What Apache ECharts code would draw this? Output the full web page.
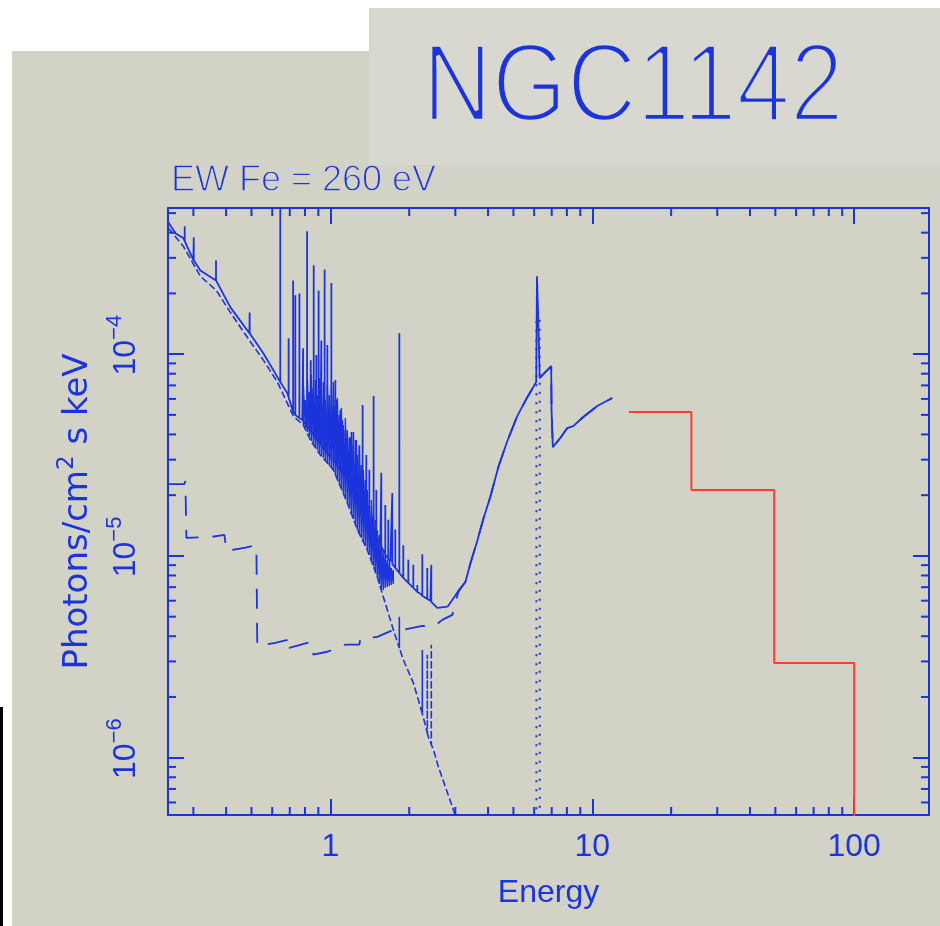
<!DOCTYPE html>
<html><head><meta charset="utf-8">
<script src="https://cdn.jsdelivr.net/npm/echarts@6/dist/echarts.min.js"></script>
<style>html,body{margin:0;padding:0;background:#fff;}#c{width:940px;height:926px;}</style>
</head><body><div id="c"></div>
<script>
// ---- axis ranges and tick labels ----
const xRange = [0.24, 193];
const yRange = [5.2e-7, 5.3e-4];
const xTickLabels = [1, 10, 100];
const yTickLabels = [1e-6, 1e-5, 1e-4];
const xMinorTicks = [0.3,0.4,0.5,0.6,0.7,0.8,0.9,2,3,4,5,6,7,8,9,20,30,40,50,60,70,80,90];
const yMinorTicks = [6e-7,7e-7,8e-7,9e-7,2e-6,3e-6,4e-6,5e-6,6e-6,7e-6,8e-6,9e-6,2e-5,3e-5,4e-5,5e-5,6e-5,7e-5,8e-5,9e-5,2e-4,3e-4,4e-4,5e-4];

// ---- total model (keV, photons/cm2/s/keV) ----
const totalE = [0.2408,0.256,0.275,0.300,0.319,0.367,0.415,0.491,0.555,0.628,0.685,0.722,0.782,0.839,0.916,1.027,1.161,1.302,1.421,1.552,1.694,1.850,2.02,2.21,2.41,2.56,2.80,2.87,3.08,3.28,3.42,3.64,3.84,4.08,4.38,4.74,5.17,5.65,6.11,6.15,6.22,6.22,6.30,6.30,6.33,6.97,6.99,7.05,7.07,7.55,8.03,8.46,9.24,10.45,11.92];
const totalF = [4.50e-4,3.97e-4,3.75e-4,2.92e-4,2.60e-4,2.32e-4,1.71e-4,1.27e-4,1.01e-4,7.69e-5,6.41e-5,5.10e-5,4.71e-5,4.20e-5,3.54e-5,2.99e-5,2.38e-5,1.89e-5,1.47e-5,1.13e-5,9.34e-6,8.05e-6,7.18e-6,6.49e-6,5.99e-6,5.53e-6,5.60e-6,5.85e-6,6.71e-6,7.44e-6,9.13e-6,1.19e-5,1.53e-5,1.96e-5,2.76e-5,3.71e-5,4.93e-5,6.12e-5,7.27e-5,2.43e-4,2.43e-4,1.50e-4,1.50e-4,7.60e-5,7.69e-5,8.72e-5,5.28e-5,5.28e-5,3.46e-5,3.84e-5,4.30e-5,4.40e-5,4.88e-5,5.53e-5,6.06e-5];
// strong emission lines on the total model: energy, continuum level, peak
const lineE = [0.278,0.301,0.366,0.492,0.644,0.693,0.721,0.735,0.762,0.787,0.815,0.842,0.864,0.884,0.902,0.924,0.951,0.974,1.009,1.045,1.054,1.092,1.111,1.141,1.192,1.224,1.256,1.290,1.328,1.372,1.409,1.463,1.498,1.565,1.621,1.664,1.724,1.770,1.834,1.899,1.985,2.074,2.148,2.245,2.345,2.429];
const lineBase = [3.63e-4,2.92e-4,2.32e-4,1.27e-4,7.27e-5,6.12e-5,5.16e-5,4.99e-5,4.82e-5,4.66e-5,4.40e-5,4.18e-5,3.97e-5,3.79e-5,3.67e-5,3.50e-5,3.35e-5,3.24e-5,3.06e-5,2.89e-5,2.85e-5,2.67e-5,2.58e-5,2.46e-5,2.27e-5,2.15e-5,2.03e-5,1.94e-5,1.79e-5,1.63e-5,1.51e-5,1.36e-5,1.26e-5,1.11e-5,1.02e-5,9.66e-6,9.13e-6,8.72e-6,8.23e-6,7.78e-6,7.35e-6,6.94e-6,6.63e-6,6.34e-6,6.12e-6,5.92e-6];
const linePeak = [4.30e-4,3.79e-4,2.92e-4,1.61e-4,8.0e-4,1.20e-4,2.32e-4,1.96e-4,2.00e-4,1.07e-4,4.06e-4,9.34e-5,2.76e-4,9.89e-5,2.07e-4,1.17e-4,2.63e-4,1.11e-4,2.25e-4,7.44e-5,5.92e-5,5.28e-5,4.71e-5,4.20e-5,3.88e-5,4.11e-5,3.75e-5,3.54e-5,5.59e-5,3.16e-5,2.67e-5,6.20e-5,2.12e-5,2.58e-5,1.79e-5,1.51e-5,2.05e-5,1.35e-5,1.27e-4,1.13e-5,9.56e-6,9.03e-6,7.18e-6,1.02e-5,8.72e-6,9.03e-6];
// dense blend of weak lines (0.8-1.75 keV): energy, lower and upper extent
const forestE = [0.7886,0.8028,0.8170,0.8314,0.8461,0.8611,0.8764,0.8919,0.9079,0.9240,0.9403,0.9570,0.9740,0.9912,1.0088,1.0267,1.0449,1.0634,1.0823,1.1015,1.1210,1.1409,1.1612,1.1818,1.2027,1.2241,1.2458,1.2679,1.2904,1.3133,1.3366,1.3603,1.3844,1.4090,1.4340,1.4594,1.4853,1.5117,1.5385,1.5658,1.5936,1.6218,1.6506,1.6799,1.7097,1.7400];
const forestLo = [4.452e-5,4.301e-5,4.109e-5,3.926e-5,3.709e-5,3.584e-5,3.464e-5,3.348e-5,3.236e-5,3.126e-5,3.056e-5,2.953e-5,2.887e-5,2.790e-5,2.727e-5,2.665e-5,2.518e-5,2.405e-5,2.272e-5,2.171e-5,2.050e-5,1.936e-5,1.829e-5,1.728e-5,1.614e-5,1.524e-5,1.440e-5,1.345e-5,1.285e-5,1.228e-5,1.173e-5,1.121e-5,1.071e-5,1.011e-5,9.446e-6,8.923e-6,8.333e-6,7.872e-6,7.267e-6,6.787e-6,6.787e-6,6.944e-6,7.023e-6,7.104e-6,7.185e-6,7.267e-6];
const forestHi = [7.023e-5,5.919e-5,7.606e-5,6.484e-5,7.872e-5,6.787e-5,7.435e-5,6.266e-5,7.606e-5,6.634e-5,7.267e-5,5.919e-5,7.023e-5,6.266e-5,6.787e-5,7.267e-5,5.591e-5,6.055e-5,4.989e-5,5.403e-5,4.452e-5,4.822e-5,4.204e-5,3.837e-5,4.109e-5,3.544e-5,3.752e-5,3.162e-5,3.348e-5,2.822e-5,2.665e-5,2.378e-5,2.122e-5,1.788e-5,1.893e-5,1.595e-5,1.507e-5,1.345e-5,1.270e-5,1.133e-5,1.071e-5,1.011e-5,9.554e-6,9.339e-6,8.722e-6,8.525e-6];

// ---- soft thermal component ----
const thermE = [0.2408,0.2748,0.319,0.367,0.415,0.491,0.555,0.628,0.722,0.789,0.839,0.916,1.027,1.161,1.268,1.384,1.511,1.593,1.740,1.899,2.074,2.206,2.366,2.473,2.584,2.748,2.948,3.053];
const thermF = [4.21e-4,3.42e-4,2.43e-4,2.07e-4,1.61e-4,1.17e-4,9.34e-5,7.27e-5,4.93e-5,4.45e-5,3.75e-5,3.16e-5,2.67e-5,1.83e-5,1.35e-5,1.07e-5,7.87e-6,6.27e-6,4.30e-6,3.06e-6,2.35e-6,1.79e-6,1.27e-6,1.10e-6,9.03e-7,7.18e-7,5.53e-7,4.82e-7];
const thermLineE = [1.834,2.245,2.345,2.429];
const thermLineBase = [3.50e-6,1.65e-6,1.33e-6,1.16e-6];
const thermLinePeak = [5.0e-6,3.42e-6,3.24e-6,3.63e-6];

// ---- scattered + absorbed power law ----
const plE = [0.2408,0.277,0.2797,0.2821,0.348,0.394,0.401,0.423,0.474,0.522,0.526,0.617,0.685,0.691,0.697,0.817,0.854,0.861,0.974,1.141,1.290,1.302,1.511,1.740,1.899,2.245,2.473,2.676,2.922,3.08,3.28,3.42,3.64,3.84,4.08,4.38,4.74,5.17,5.65,6.11,6.33,6.97,6.99,7.05,7.07,7.55,8.03,8.46,9.24,10.45,11.92];
const plF = [2.27e-5,2.27e-5,2.35e-5,1.23e-5,1.24e-5,1.27e-5,1.06e-5,1.07e-5,1.10e-5,1.13e-5,3.58e-6,3.71e-6,3.84e-6,3.97e-6,3.50e-6,3.71e-6,3.71e-6,3.24e-6,3.35e-6,3.63e-6,3.63e-6,3.88e-6,3.97e-6,4.30e-6,4.30e-6,4.50e-6,4.45e-6,4.82e-6,5.10e-6,6.63e-6,7.44e-6,9.13e-6,1.19e-5,1.53e-5,1.96e-5,2.76e-5,3.71e-5,4.93e-5,6.12e-5,7.27e-5,7.69e-5,8.72e-5,5.28e-5,5.28e-5,3.46e-5,3.84e-5,4.30e-5,4.40e-5,4.88e-5,5.53e-5,6.06e-5];

// ---- Fe K line component ----
const feE = [6.12,6.12,6.30,6.30];
const feF = [3e-7,1.5e-4,1.5e-4,3e-7];

// ---- hard X-ray bins (red) ----
const batE = [13.8,23.9,49.5,100];
const batF = [5.16e-5,2.12e-5,2.95e-6,1e-7];

const BLUE = '#1c34dc';
const RED = '#ff3d2e';
const PANEL = '#d3d2c7';
const BOX = '#d8d8d1';
const FONT = 'Liberation Sans';

function withLines(E, F, lE, lB, lP) {
  const pts = E.map((e, i) => ({e, o: 0, i, s: [[e, F[i]]]}));
  lE.forEach((e, i) => pts.push({e, o: 1, i, s: [[e, lB[i]], [e, lP[i]], [e, lB[i]]]}));
  pts.sort((a, b) => a.e - b.e || a.o - b.o || a.i - b.i);
  return pts.flatMap(p => p.s);
}
const zip = (a, b) => a.map((v, i) => [v, b[i]]);
const forestData = forestE.flatMap((e, i) => [[e, forestLo[i]], [e, forestHi[i]]]);
const near = (list, v) => list.find(t => Math.abs(Math.log10(t) - Math.log10(v)) < 1e-6);

const axisBase = {
  type: 'log', logBase: 10,
  axisLine: {show: true, lineStyle: {color: BLUE, width: 2}},
  axisTick: {show: true, inside: true, length: 16, lineStyle: {color: BLUE, width: 2}},
  splitLine: {show: false}, minorTick: {show: false}, minorSplitLine: {show: false}
};

// thin text: glyphs filled, then an outline in the background colour drawn on top
function thinText(x, y, text, size, bg, erode, extra) {
  const base = Object.assign({text, fontSize: size, fontFamily: FONT, align: extra.align, verticalAlign: 'middle'});
  return [
    Object.assign({type: 'text', x, y, z: 5, silent: true, style: Object.assign({}, base, {fill: BLUE})}, extra.t || {}),
    Object.assign({type: 'text', x, y, z: 6, silent: true,
      style: Object.assign({}, base, {fill: 'none', stroke: bg, lineWidth: erode})}, extra.t || {})
  ];
}

const chart = echarts.init(document.getElementById('c'), null, {renderer: 'canvas'});
chart.setOption({
  animation: false,
  backgroundColor: '#ffffff',
  graphic: [
    {type: 'rect', z: -10, silent: true, shape: {x: 12, y: 51, width: 928, height: 875}, style: {fill: PANEL}},
    {type: 'rect', z: -9, silent: true, shape: {x: 369, y: 8, width: 571, height: 157}, style: {fill: BOX}},
    {type: 'rect', z: -9, silent: true, shape: {x: 0, y: 707, width: 3, height: 219}, style: {fill: '#000000'}}
  ].concat(
    thinText(633, 90, 'NGC1142', 112, BOX, 4.5, {align: 'center', t: {scaleX: 0.86}}),
    thinText(171, 181, 'EW Fe = 260 eV', 36, PANEL, 1.3, {align: 'left'})
  ),
  grid: {left: 168, top: 208, width: 761, height: 607, containLabel: false, outerBoundsMode: 'none'},
  xAxis: [
    Object.assign({}, axisBase, {
      position: 'bottom', min: xRange[0], max: xRange[1],
      axisLabel: {show: true, color: BLUE, fontSize: 32, fontFamily: FONT, margin: 16,
        showMinLabel: false, showMaxLabel: false,
        formatter: v => { const t = near(xTickLabels, v); return t === undefined ? '' : String(t); }},
      name: 'Energy', nameLocation: 'middle', nameGap: 62,
      nameTextStyle: {color: BLUE, fontSize: 32, fontFamily: FONT}
    }),
    Object.assign({}, axisBase, {position: 'top', min: xRange[0], max: xRange[1], axisLabel: {show: false}})
  ],
  yAxis: [
    Object.assign({}, axisBase, {
      position: 'left', min: yRange[0], max: yRange[1],
      axisLabel: {show: true, rotate: 90, margin: 20, showMinLabel: false, showMaxLabel: false,
        padding: [0, 0, 0, 18],
        formatter: v => { const t = near(yTickLabels, v); if (t === undefined) return '';
          return '{b|10}{s|\u2212' + Math.round(-Math.log10(t)) + '}'; },
        rich: {b: {fontSize: 32, fontFamily: FONT, color: BLUE, lineHeight: 44},
               s: {fontSize: 22, fontFamily: FONT, color: BLUE, verticalAlign: 'top'}}},
      name: '{a|Photons/cm}{s|2}{a| s keV}', nameLocation: 'middle', nameGap: 68,
      nameTextStyle: {color: BLUE, fontSize: 34, fontFamily: 'DejaVu Sans',
        rich: {a: {fontSize: 34, fontFamily: 'DejaVu Sans', color: BLUE, lineHeight: 44},
               s: {fontSize: 23, fontFamily: 'DejaVu Sans', color: BLUE, verticalAlign: 'top'}}}
    }),
    Object.assign({}, axisBase, {position: 'right', min: yRange[0], max: yRange[1], axisLabel: {show: false}})
  ],
  series: [
    {type: 'custom', xAxisIndex: 0, yAxisIndex: 0, silent: true, z: 1,
      data: xMinorTicks.map(v => [v, yRange[0]]), encode: {x: 0, y: 1},
      renderItem: (p, api) => { const v = api.value(0);
        const b = api.coord([v, yRange[0]]), t = api.coord([v, yRange[1]]);
        return {type: 'group', children: [
          {type: 'line', shape: {x1: b[0], y1: b[1], x2: b[0], y2: b[1] - 8}, style: {stroke: BLUE, lineWidth: 2}},
          {type: 'line', shape: {x1: t[0], y1: t[1], x2: t[0], y2: t[1] + 8}, style: {stroke: BLUE, lineWidth: 2}}]}; }},
    {type: 'custom', xAxisIndex: 0, yAxisIndex: 0, silent: true, z: 1,
      data: yMinorTicks.map(v => [xRange[0], v]), encode: {x: 0, y: 1},
      renderItem: (p, api) => { const v = api.value(1);
        const l = api.coord([xRange[0], v]), r = api.coord([xRange[1], v]);
        return {type: 'group', children: [
          {type: 'line', shape: {x1: l[0], y1: l[1], x2: l[0] + 8, y2: l[1]}, style: {stroke: BLUE, lineWidth: 2}},
          {type: 'line', shape: {x1: r[0], y1: r[1], x2: r[0] - 8, y2: r[1]}, style: {stroke: BLUE, lineWidth: 2}}]}; }},
    {name: 'thermal', type: 'line', showSymbol: false, symbol: 'none', clip: true,
      data: withLines(thermE, thermF, thermLineE, thermLineBase, thermLinePeak),
      lineStyle: {color: BLUE, width: 1.6, type: [7, 3]}},
    {name: 'powerlaw', type: 'line', showSymbol: false, symbol: 'none', clip: true,
      data: zip(plE, plF), lineStyle: {color: BLUE, width: 1.8, type: [20, 14]}},
    {name: 'Fe line', type: 'line', showSymbol: false, symbol: 'none', clip: true,
      data: zip(feE, feF), lineStyle: {color: BLUE, width: 2, type: [2, 7]}},
    {name: 'line blend', type: 'line', showSymbol: false, symbol: 'none', clip: true,
      data: forestData, lineStyle: {color: BLUE, width: 1.4}},
    {name: 'total', type: 'line', showSymbol: false, symbol: 'none', clip: true,
      data: withLines(totalE, totalF, lineE, lineBase, linePeak),
      lineStyle: {color: BLUE, width: 1.8}},
    {name: 'hard', type: 'line', showSymbol: false, symbol: 'none', clip: true, step: 'end',
      data: zip(batE, batF), lineStyle: {color: RED, width: 2}}
  ]
});
</script></body></html>
